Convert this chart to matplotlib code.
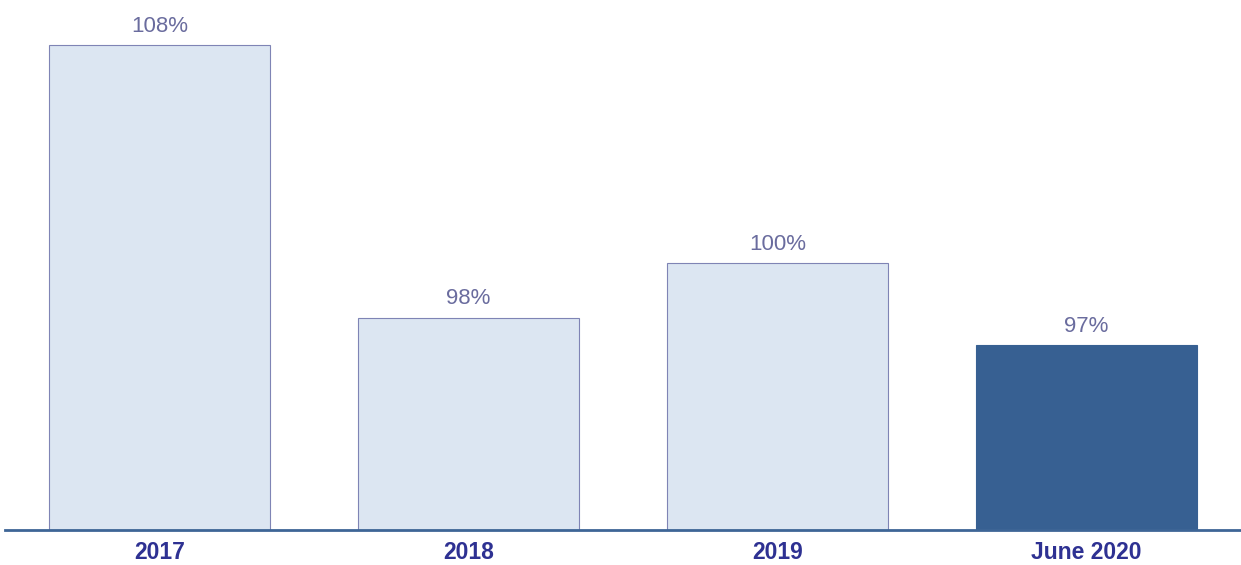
import matplotlib
matplotlib.use("Agg")
import matplotlib.pyplot as plt

categories = ["2017", "2018", "2019", "June 2020"]
values = [108, 98, 100, 97]
labels = ["108%", "98%", "100%", "97%"]

plt.rcParams['font.family'] = ['Liberation Sans', 'DejaVu Sans']

fig = plt.figure(figsize=(12.41, 5.65), dpi=100)
ax = fig.add_axes([5/1241, 35/565, 1236/1241, 520/565])

light = "#dce6f2"
dark = "#376092"
colors = [light, light, light, dark]
edges = ["#7f84b5", "#7f84b5", "#7f84b5", dark]
ymin = 90.2
x = range(len(categories))
bars = ax.bar(x, [v - ymin for v in values], bottom=ymin, width=0.715,
              color=colors, edgecolor=edges, linewidth=0.8, zorder=2)

for xi, v, lab in zip(x, values, labels):
    ax.annotate(lab, (xi, v), xytext=(0, 6), textcoords="offset points",
                ha="center", va="bottom", fontsize=16, color="#6a6c9e")

ax.set_xlim(-0.5, 3.5)
ax.set_ylim(ymin, 109.3)
ax.set_xticks(list(x))
ax.set_xticklabels(categories, fontsize=16.5, fontweight="bold", color="#2e3192")
ax.tick_params(axis='x', length=0, pad=8)
ax.set_yticks([])
for s in ["top", "right", "left"]:
    ax.spines[s].set_visible(False)
ax.spines["bottom"].set_color("#3d6596")
ax.spines["bottom"].set_linewidth(2)
ax.spines["bottom"].set_zorder(3)

fig.savefig("out.png", dpi=100)
